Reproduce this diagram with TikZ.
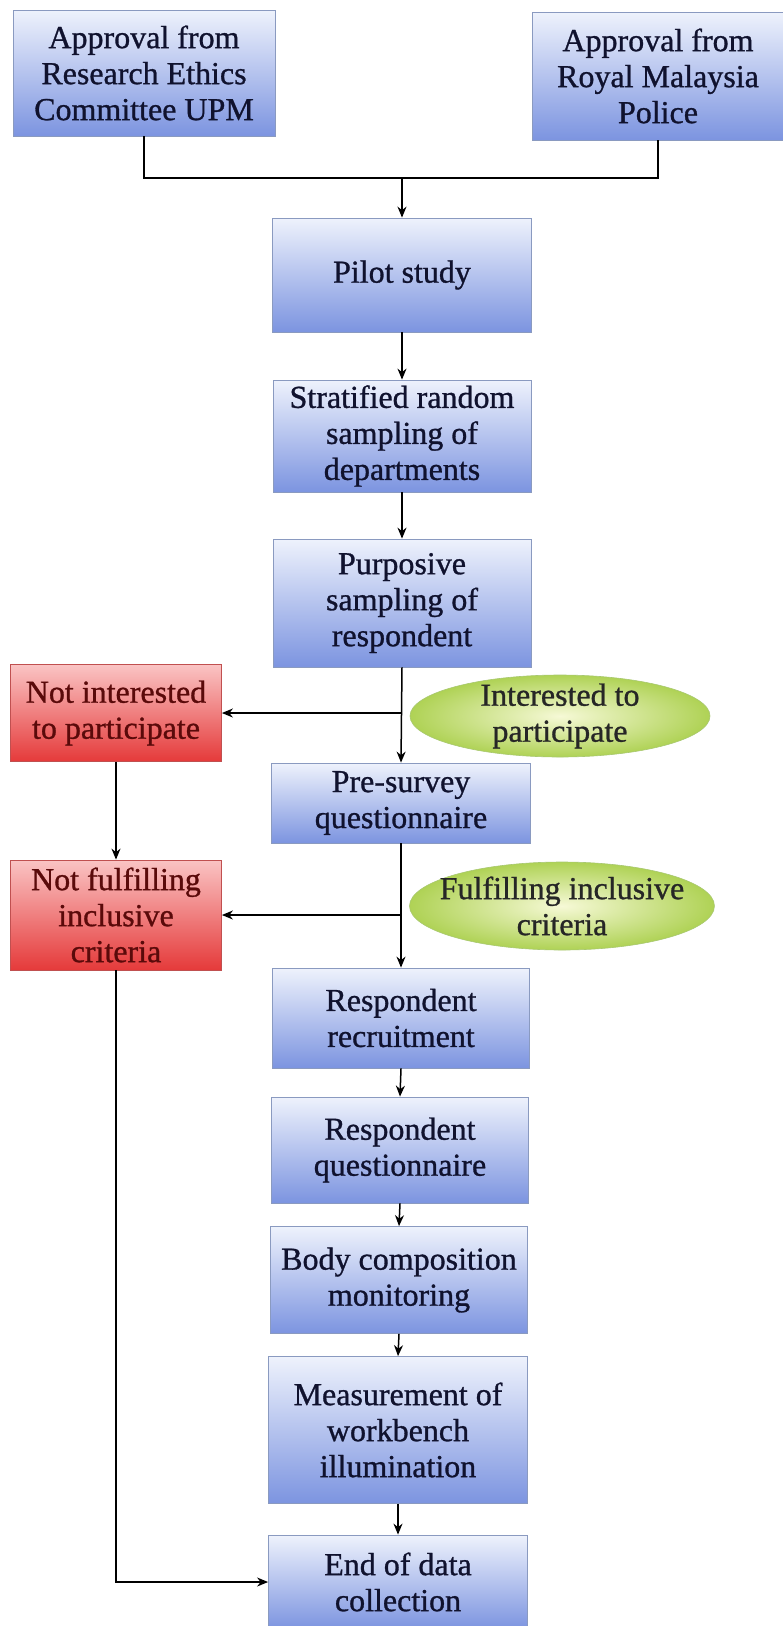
\documentclass[tikz,border=0pt]{standalone}
\usepackage{fontspec}
\setmainfont{Liberation Serif}[FakeBold=0.9]
\usetikzlibrary{arrows.meta,shapes.geometric}
\definecolor{bluetop}{HTML}{EEF2FC}
\definecolor{bluebot}{HTML}{7C94E0}
\definecolor{blueline}{HTML}{8A9AC0}
\definecolor{redtop}{HTML}{FAC4C4}
\definecolor{redbot}{HTML}{E53A3A}
\definecolor{redline}{HTML}{C05050}
\definecolor{redtext}{HTML}{5A0A0A}
\definecolor{greenin}{HTML}{F6F9D6}
\definecolor{greenout}{HTML}{AFD255}
\definecolor{greenline}{HTML}{A8C870}
\definecolor{navytext}{HTML}{10122E}
\begin{document}
\begin{tikzpicture}[x=1pt,y=-1pt,
  txt/.style={font=\fontsize{32}{36}\selectfont, align=center},
  bbox/.style={txt, draw=blueline, line width=0.8pt, top color=bluetop, bottom color=bluebot, text=navytext, inner sep=0pt, rectangle},
  rbox/.style={txt, draw=redline, line width=0.8pt, top color=redtop, bottom color=redbot, text=redtext, inner sep=0pt, rectangle},
  gell/.style={ellipse, draw=greenline, line width=0.6pt, inner color=greenin, outer color=greenout, inner sep=0pt},
  gtext/.style={txt, text=black!85, inner sep=0pt},
  conn/.style={line width=1.5pt, black},
  arr/.style={conn, -{Stealth[length=11pt,width=9pt]}}
]
\useasboundingbox (0,0) rectangle (783,1626);

\node[bbox, minimum width=262pt, minimum height=126pt] (eth) at (144,73) {Approval from\\Research Ethics\\Committee UPM};
\node[bbox, minimum width=251pt, minimum height=128pt] (pol) at (658,76) {Approval from\\Royal Malaysia\\Police};
\node[bbox, minimum width=259pt, minimum height=114pt] (pilot) at (402,275) {Pilot study};
\node[bbox, minimum width=258pt, minimum height=112pt] (strat) at (402,436) {Stratified random\\sampling of\\departments};
\node[bbox, minimum width=258pt, minimum height=128pt] (purp) at (402,603) {Purposive\\sampling of\\respondent};
\node[rbox, minimum width=211pt, minimum height=97pt] (notint) at (116,713) {Not interested\\to participate};
\node[gell, minimum width=300pt, minimum height=82pt] (intel) at (560,716) {};
\node[gtext] (intelt) at (intel.center) {Interested to\\participate};
\node[bbox, minimum width=259pt, minimum height=80pt] (pre) at (401,803) {Pre-survey\\questionnaire};
\node[rbox, minimum width=211pt, minimum height=110pt] (notful) at (116,915) {Not fulfilling\\inclusive\\criteria};
\node[gell, minimum width=305pt, minimum height=88pt] (fulel) at (562,906) {};
\node[gtext] (fult) at (fulel.center) {Fulfilling inclusive\\criteria};
\node[bbox, minimum width=257pt, minimum height=100pt] (recr) at (401,1018) {Respondent\\recruitment};
\node[bbox, minimum width=257pt, minimum height=106pt] (rq) at (400,1150) {Respondent\\questionnaire};
\node[bbox, minimum width=257pt, minimum height=107pt] (body) at (399,1280) {Body composition\\monitoring};
\node[bbox, minimum width=259pt, minimum height=147pt] (meas) at (398,1430) {Measurement of\\workbench\\illumination};
\node[bbox, minimum width=259pt, minimum height=94pt] (end) at (398,1582) {End of data\\collection};

\coordinate (j) at (402,178);
\draw[conn] (eth.south) |- (j) -| (pol.south);
\draw[arr] (j) -- (pilot.north);
\draw[arr] (pilot.south) -- (strat.north);
\draw[arr] (strat.south) -- (purp.north);
\draw[arr] (purp.south) -- (pre.north);
\draw[arr] (purp.south |- notint.east) -- (notint.east);
\draw[arr] (notint.south) -- (notful.north);
\draw[arr] (pre.south) -- (recr.north);
\draw[arr] (pre.south |- notful.east) -- (notful.east);
\draw[arr] (recr.south) -- (rq.north);
\draw[arr] (rq.south) -- (body.north);
\draw[arr] (body.south) -- (meas.north);
\draw[arr] (meas.south) -- (end.north);
\draw[arr] (notful.south) |- (end.west);
\end{tikzpicture}
\end{document}
